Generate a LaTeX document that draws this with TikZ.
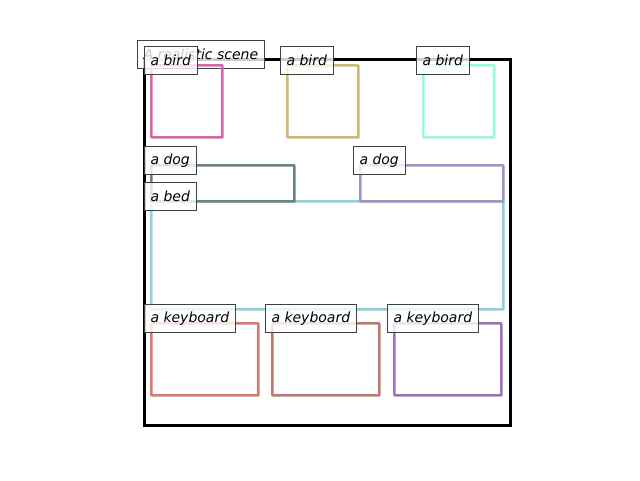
\documentclass[tikz,border=0pt]{standalone}
\usepackage{fontspec}
\setmainfont{DejaVu Sans}
\usetikzlibrary{positioning, calc}
\definecolor{birdpink}{RGB}{219,100,168}
\definecolor{birdgold}{RGB}{208,184,114}
\definecolor{birdaqua}{RGB}{150,252,220}
\definecolor{doggreen}{RGB}{104,134,124}
\definecolor{doglav}{RGB}{155,152,198}
\definecolor{bedcyan}{RGB}{136,212,218}
\definecolor{keysalmon}{RGB}{214,122,108}
\definecolor{keybrown}{RGB}{190,122,110}
\definecolor{keypurple}{RGB}{160,112,184}
\tikzset{
  objbox/.style={draw, line width=2.4pt, rounded corners=0.5pt, inner sep=0pt, anchor=north west},
  labelbox/.style={draw=black!75, line width=1pt, fill=white, fill opacity=0.8, text opacity=1,
    font=\fontsize{14}{16}\selectfont\itshape, minimum height=28pt, inner xsep=6.3pt, inner ysep=0pt}
}

\begin{document}
\begin{tikzpicture}[x=1pt, y=-1pt]
  \useasboundingbox (0.8,0.8) rectangle (640.8,480.8);
  % Scene frame
  \node[draw, line width=2.5pt, minimum width=366pt, minimum height=366pt, inner sep=0pt, anchor=north west] (scene) at (144,59) {};
  \node[labelbox, anchor=north west] (title) at (137.5,41) {A realistic scene};

  % Birds
  \foreach \x/\c [count=\i] in {151/birdpink, 287/birdgold, 423/birdaqua}
    \node[objbox, draw=\c, minimum width=71pt, minimum height=72pt] (bird\i) at (\x,65) {};
  % Dogs and bed
  \node[objbox, draw=bedcyan, minimum width=352pt, minimum height=108pt] (bed) at (151,201) {};
  \node[objbox, draw=doggreen, minimum width=143pt, minimum height=36pt] (dog1) at (151,165) {};
  \node[objbox, draw=doglav, minimum width=143pt, minimum height=36pt] (dog2) at (360,165) {};
  % Keyboards
  \foreach \x/\c [count=\i] in {151/keysalmon, 272/keybrown, 394/keypurple}
    \node[objbox, draw=\c, minimum width=107pt, minimum height=72pt] (key\i) at (\x,323) {};

  % Labels
  \foreach \i in {1,2,3}{
    \node[labelbox, anchor=south west] (birdlab\i) at ($(bird\i.north west)+(-6.5,11)$) {a bird};
    \node[labelbox, anchor=south west] (keylab\i) at ($(key\i.north west)+(-6.5,11)$) {a keyboard};
  }
  \node[labelbox, anchor=south west] (doglab1) at ($(dog1.north west)+(-6.5,11)$) {a dog};
  \node[labelbox, anchor=south west] (doglab2) at ($(dog2.north west)+(-6.5,11)$) {a dog};
  \node[labelbox, anchor=south west] (bedlab) at ($(bed.north west)+(-6.5,11)$) {a bed};
\end{tikzpicture}
\end{document}
